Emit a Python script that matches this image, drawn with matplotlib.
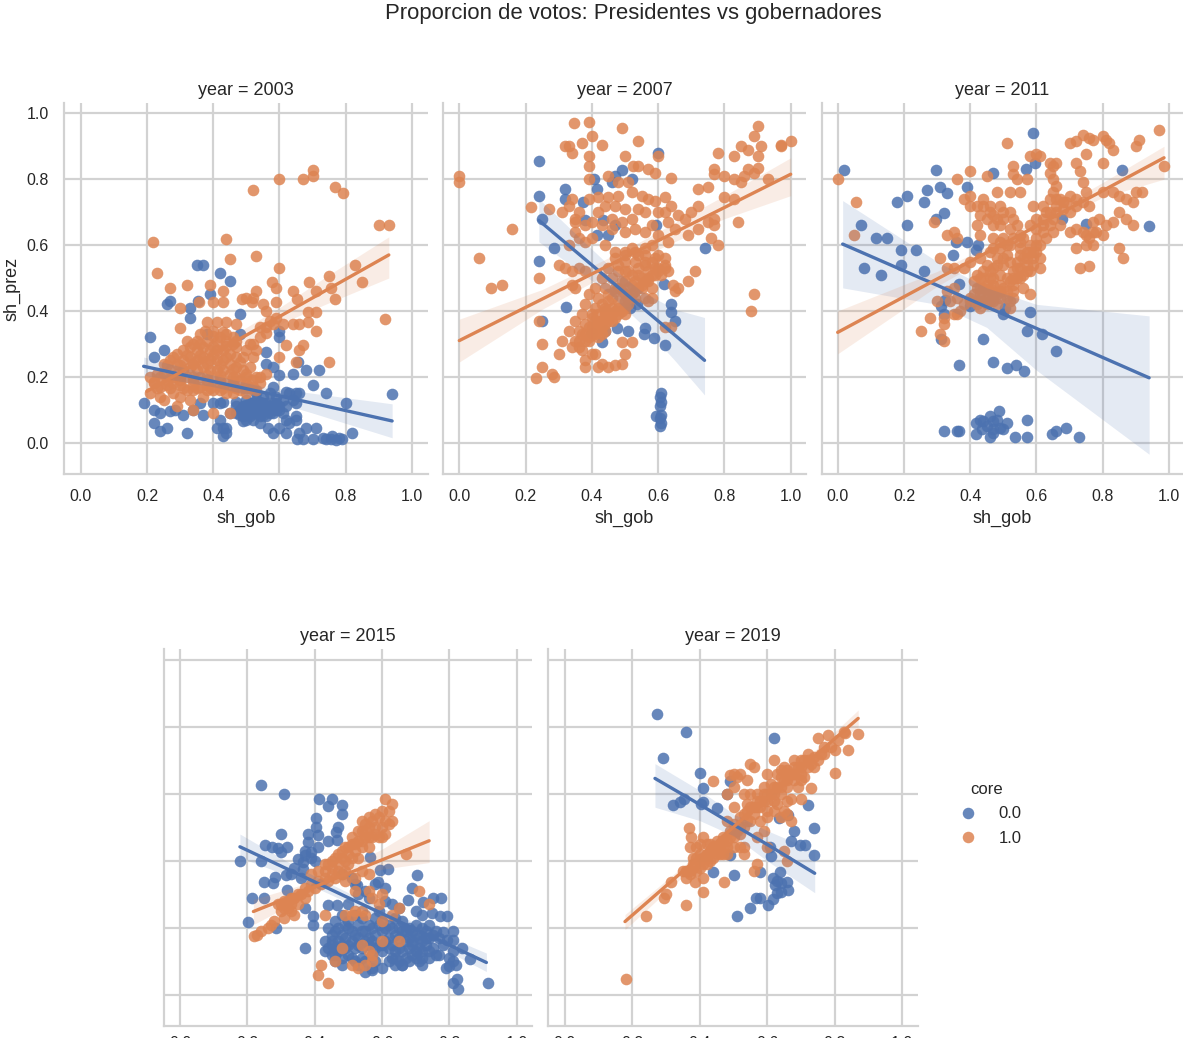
import numpy as np
import matplotlib
matplotlib.use("Agg")
import matplotlib.pyplot as plt
from matplotlib.lines import Line2D

plt.rcParams['font.family'] = ['Liberation Sans', 'DejaVu Sans']

BLUE = '#4C72B0'
ORANGE = '#DD8452'
TEXT = '#262626'
GRID = '#d2d2d2'

years = [2003, 2007, 2011, 2015, 2019]
ticks = [0.0, 0.2, 0.4, 0.6, 0.8, 1.0]

# -----------------------------------
# values: (sh_gob, sh_prez)
# -----------------------------------
blue_2003 = [(.19,.12),(.22,.10),(.24,.09),(.27,.095),(.285,.10),(.22,.06),(.24,.035),(.26,.045),(.31,.085),(.32,.03),
    (.37,.085),(.41,.045),(.43,.045),(.43,.02),(.44,.045),(.40,.12),(.43,.125),(.21,.32),(.22,.26),(.25,.28),(.26,.42),
    (.27,.43),(.33,.41),(.33,.38),(.35,.54),(.37,.54),(.42,.515),(.45,.49),(.39,.45),(.355,.43),(.48,.39),(.38,.33),
    (.48,.33),(.60,.32),(.60,.34),(.56,.275),(.56,.24),(.58,.23),(.60,.205),(.64,.21),(.68,.22),(.72,.22),(.70,.175),
    (.657,.245),(.58,.17),(.62,.155),(.65,.15),(.74,.15),(.80,.12),(.94,.148),(.65,.12),(.60,.11),(.566,.105),(.54,.125),
    (.52,.105),(.50,.115),(.48,.10),(.49,.065),(.516,.09),(.54,.08),(.566,.045),(.58,.03),(.60,.045),(.62,.07),(.65,.08),
    (.62,.03),(.654,.01),(.68,.045),(.71,.045),(.70,.01),(.73,.015),(.757,.01),(.78,.015),(.77,.007),(.82,.03),(.45,.09),
    (.42,.07),(.47,.125),(.53,.15),(.55,.14),(.57,.15),(.59,.14),(.61,.13),(.63,.15),(.50,.09),(.52,.07),(.53,.11),(.55,.10),
    (.57,.09),(.59,.10),(.61,.09),(.49,.08),(.51,.08),(.53,.09),(.47,.09),(.50,.13),(.56,.12),(.58,.12),(.34,.10),(.36,.12),
    (.66,.03),(.63,.06),(.65,.07),(.67,.01),(.74,.01),(.76,.02),(.79,.01),(.44,.03),(.42,.12),
    (.49,.11),(.51,.12),(.53,.13),(.55,.12),(.57,.11),(.59,.12),(.48,.085),(.50,.07),(.52,.09),(.54,.06),(.56,.08),(.58,.09),
    (.60,.10),(.62,.11),(.64,.13),(.66,.15),(.49,.10),(.51,.10),(.55,.085),(.57,.10),(.47,.11),(.52,.12),(.54,.10),(.56,.10)]
orange_2003 = [(.217,.608),(.23,.516),(.27,.47),(.32,.48),(.39,.48),(.43,.46),(.44,.617),(.45,.558),(.528,.568),(.52,.767),
    (.60,.80),(.67,.80),(.70,.81),(.70,.828),(.768,.775),(.793,.757),(.90,.66),(.93,.66),(.92,.375),(.828,.54),(.85,.488),
    (.75,.507),(.757,.47),(.768,.436),(.69,.488),(.71,.46),(.64,.46),(.654,.436),(.60,.53),(.578,.488),(.59,.47),(.528,.46),
    (.59,.428),(.486,.436),(.516,.428),(.43,.428),(.40,.428),(.358,.428),(.30,.408),(.30,.347),(.687,.398),(.71,.398),
    (.687,.367),(.71,.34),(.64,.36),(.62,.297),(.672,.297),(.66,.28),(.60,.26),(.65,.245),(.75,.245),(.56,.40),(.54,.352),
    (.56,.332),(.38,.365),(.41,.365),(.44,.365),(.47,.36),(.50,.44),(.52,.44),(.55,.42),(.57,.37),(.59,.38),(.61,.36),(.66,.36),
    (.375,.34),(.40,.34),(.43,.335),(.46,.32),(.51,.30),(.53,.28),(.32,.31),(.35,.31),(.38,.31),(.41,.31),(.44,.31),(.47,.29),
    (.29,.27),(.31,.28),(.33,.29),(.35,.28),(.37,.29),(.39,.28),(.41,.28),(.43,.28),(.45,.27),(.47,.26),(.49,.26),(.52,.26),
    (.25,.24),(.27,.25),(.29,.24),(.31,.25),(.33,.26),(.35,.25),(.37,.26),(.39,.25),(.41,.25),(.43,.25),(.45,.24),(.47,.23),
    (.21,.20),(.23,.21),(.25,.21),(.27,.22),(.29,.21),(.31,.22),(.33,.23),(.35,.22),(.37,.23),(.39,.22),(.41,.22),(.43,.22),
    (.45,.21),(.47,.20),(.49,.22),(.51,.23),(.53,.20),(.22,.18),(.24,.17),(.26,.19),(.28,.18),(.30,.19),(.32,.20),(.34,.19),
    (.36,.20),(.38,.19),(.40,.19),(.42,.19),(.44,.18),(.46,.18),(.48,.19),(.50,.18),(.52,.17),(.21,.15),(.24,.14),(.25,.13),
    (.28,.15),(.30,.14),(.32,.16),(.34,.16),(.36,.17),(.38,.16),(.40,.16),(.42,.16),(.44,.15),(.46,.15),(.48,.16),(.50,.15),
    (.53,.16),(.56,.21),(.29,.11),(.34,.10),(.40,.09),(.45,.09),(.33,.13),(.37,.14),
    (.23,.165),(.27,.165),(.31,.165),(.35,.165),(.39,.165),(.43,.165),(.47,.165),(.51,.165),(.24,.20),(.28,.20),(.30,.20),
    (.34,.20),(.38,.205),(.42,.205),(.46,.20),(.50,.20),(.54,.20),(.26,.235),(.30,.235),(.34,.24),(.38,.24),(.42,.235),
    (.46,.225),(.50,.21),(.28,.26),(.32,.265),(.36,.265),(.40,.265),(.44,.26),(.48,.245),(.34,.30),(.36,.30),(.40,.295),
    (.44,.295),(.46,.30),(.50,.28),(.36,.33),(.40,.325),(.42,.32),(.44,.33),(.47,.31),(.22,.185),(.26,.175),(.30,.175),
    (.34,.175),(.38,.175),(.42,.175),(.46,.17),(.50,.165),(.54,.18),(.52,.30),(.54,.32),(.56,.35),(.58,.36),(.52,.19)]

blue_2007 = [(.24,.856),(.24,.749),(.25,.68),(.32,.77),(.32,.74),(.405,.80),(.415,.77),(.46,.79),(.47,.81),(.49,.828),(.52,.80),
    (.60,.88),(.374,.73),(.38,.675),(.435,.675),(.416,.63),(.47,.66),(.45,.63),(.595,.66),(.287,.59),(.24,.552),(.74,.59),
    (.618,.483),(.638,.422),(.638,.398),(.65,.37),(.322,.412),(.25,.37),(.40,.332),(.44,.34),(.475,.347),(.51,.34),(.56,.347),
    (.557,.33),(.587,.317),(.62,.297),(.43,.305),(.535,.42),(.515,.408),(.61,.15),(.605,.14),(.61,.125),(.605,.11),(.61,.085),
    (.605,.075),(.61,.06),(.607,.05),(.593,.08)]
orange_2007 = [(0,.81),(0,.79),(.06,.56),(.097,.47),(.13,.48),(.158,.648),(.217,.715),(.24,.50),(.24,.37),(.25,.30),(.25,.23),
    (.23,.195),(.28,.21),(.285,.20),(.345,.97),(.39,.975),(.32,.90),(.33,.90),(.34,.88),(.37,.91),(.40,.93),(.43,.905),(.39,.87),
    (.39,.84),(.49,.955),(.54,.915),(.50,.87),(.525,.84),(.54,.84),(.57,.83),(.59,.82),(.60,.87),(.64,.805),(.39,.80),(.45,.81),
    (.48,.79),(.51,.79),(.78,.88),(.83,.87),(.85,.90),(.87,.89),(.90,.87),(.90,.96),(.89,.93),(.91,.90),(.97,.905),(1.0,.915),
    (.77,.83),(.77,.815),(.80,.81),(.83,.80),(.86,.81),(.87,.83),(.89,.82),(.90,.835),(.72,.77),(.75,.775),(.34,.74),(.33,.72),
    (.27,.71),(.35,.68),(.31,.70),(.39,.74),(.42,.745),(.45,.745),(.48,.75),(.52,.76),(.55,.75),(.57,.74),(.59,.735),(.62,.745),
    (.35,.67),(.40,.67),(.43,.66),(.46,.68),(.49,.67),(.52,.68),(.54,.71),(.56,.70),(.62,.70),(.63,.67),(.66,.69),(.70,.70),
    (.72,.72),(.75,.67),(.77,.68),(.80,.745),(.83,.74),(.84,.67),(.77,.66),(.69,.63),(.72,.65),(.76,.62),(.78,.60),(.35,.64),
    (.36,.62),(.33,.60),(.38,.61),(.40,.62),(.53,.65),(.56,.64),(.60,.63),(.63,.61),(.65,.65),(.30,.54),(.32,.53),(.34,.52),
    (.36,.53),(.38,.52),(.34,.48),(.35,.47),(.44,.60),(.47,.58),(.50,.58),(.53,.58),(.56,.57),(.59,.56),(.62,.56),(.47,.56),
    (.50,.55),(.53,.55),(.56,.54),(.59,.53),(.62,.54),(.45,.53),(.48,.52),(.51,.52),(.54,.51),(.57,.50),(.60,.52),(.43,.50),
    (.46,.50),(.49,.49),(.52,.48),(.55,.47),(.58,.47),(.41,.47),(.44,.47),(.47,.46),(.50,.45),(.53,.44),(.56,.44),(.39,.45),
    (.42,.44),(.45,.43),(.48,.43),(.51,.42),(.58,.44),(.38,.42),(.41,.41),(.44,.40),(.47,.40),(.50,.39),(.37,.39),(.40,.38),
    (.43,.37),(.46,.37),(.35,.37),(.38,.36),(.41,.35),(.44,.34),(.33,.34),(.36,.34),(.39,.32),(.42,.32),(.31,.31),(.34,.29),
    (.37,.28),(.40,.27),(.30,.27),(.38,.25),(.41,.27),(.43,.24),(.38,.23),(.42,.23),(.45,.23),(.47,.235),(.49,.24),(.50,.27),
    (.49,.305),(.52,.305),(.64,.35),(.645,.48),(.66,.47),(.69,.49),(.71,.52),(.65,.46),(.63,.52),(.62,.53),(.89,.45),(.88,.40),
    (.57,.43),(.62,.35),(.97,.90),(.93,.80),(.85,.79),
    (.36,.31),(.38,.33),(.40,.35),(.42,.37),(.44,.39),(.46,.41),(.48,.41),(.50,.43),(.52,.45),(.54,.47),(.56,.49),(.58,.51),
    (.60,.53),(.39,.31),(.41,.33),(.43,.35),(.45,.37),(.47,.38),(.49,.40),(.51,.44),(.53,.46),(.55,.48),(.57,.52),(.40,.39),
    (.42,.39),(.44,.41),(.46,.44),(.48,.47),(.50,.49),(.52,.51),(.54,.53),(.56,.55),(.58,.55),(.60,.57),(.50,.52),(.48,.54),
    (.50,.57),(.52,.59),(.54,.57),(.56,.59),(.58,.60),(.44,.38),(.46,.39),(.48,.39),(.50,.41),(.43,.42),(.45,.45),(.47,.47),
    (.49,.46),(.51,.47),(.53,.49),(.55,.50),(.57,.49),(.59,.51),(.61,.51),(.44,.36),(.42,.35),(.40,.33),(.38,.31),(.36,.29),
    (.35,.31),(.37,.33),(.39,.35),(.41,.37),(.43,.33),(.42,.70),(.44,.72),(.47,.72),(.50,.71),(.36,.70),(.38,.66),(.50,.64),
    (.46,.65),(.58,.66),(.60,.70),(.64,.72),(.68,.68)]

blue_2011 = [(.02,.828),(.59,.94),(.297,.828),(.468,.82),(.568,.83),(.595,.848),(.857,.828),(.94,.658),(.178,.73),(.208,.75),
    (.26,.73),(.27,.768),(.31,.777),(.33,.757),(.39,.777),(.32,.696),(.296,.68),(.208,.66),(.07,.66),(.116,.62),(.15,.62),
    (.19,.585),(.237,.585),(.19,.54),(.08,.53),(.13,.51),(.26,.52),(.357,.61),(.39,.61),(.424,.60),(.417,.585),(.348,.57),
    (.367,.483),(.324,.433),(.312,.415),(.32,.39),(.40,.415),(.505,.408),(.50,.39),(.58,.398),(.57,.34),(.616,.33),(.658,.278),
    (.44,.316),(.312,.316),(.366,.236),(.468,.245),(.51,.228),(.538,.236),(.562,.218),(.676,.68),(.75,.665),(.32,.036),(.36,.036),
    (.367,.036),(.417,.026),(.417,.06),(.44,.066),(.46,.08),(.488,.096),(.435,.043),(.46,.016),(.468,.043),(.48,.07),(.51,.06),
    (.50,.043),(.57,.07),(.535,.016),(.57,.016),(.648,.025),(.658,.036),(.69,.045),(.727,.016),(.45,.05),(.47,.03),(.49,.045),
    (.43,.07),(.47,.065)]
orange_2011 = [(0,.80),(.055,.73),(.048,.63),(.29,.67),(.36,.80),(.40,.825),(.45,.81),(.51,.91),(.53,.84),(.53,.815),(.54,.80),
    (.57,.80),(.58,.87),(.60,.875),(.61,.87),(.64,.85),(.65,.84),(.66,.85),(.64,.82),(.65,.80),(.66,.78),(.72,.85),(.73,.825),
    (.70,.91),(.72,.915),(.74,.935),(.76,.925),(.77,.92),(.80,.93),(.81,.92),(.82,.91),(.83,.89),(.75,.875),(.80,.85),(.90,.90),
    (.91,.92),(.97,.95),(.985,.84),(.74,.79),(.69,.73),(.75,.76),(.80,.76),(.83,.76),(.85,.75),(.87,.74),(.89,.73),(.90,.76),
    (.92,.76),(.38,.74),(.40,.75),(.40,.72),(.44,.72),(.46,.70),(.49,.72),(.48,.76),(.52,.76),(.55,.76),(.59,.72),(.45,.68),
    (.47,.66),(.50,.68),(.52,.65),(.53,.68),(.42,.66),(.64,.74),(.66,.72),(.68,.71),(.70,.70),(.72,.72),(.63,.70),(.60,.68),
    (.58,.66),(.60,.65),(.62,.66),(.65,.68),(.77,.67),(.79,.68),(.81,.66),(.83,.67),(.85,.70),(.87,.68),(.89,.66),(.70,.64),
    (.72,.65),(.74,.64),(.76,.62),(.75,.60),(.77,.60),(.72,.59),(.85,.59),(.86,.56),(.73,.53),(.76,.535),(.61,.53),(.55,.63),
    (.53,.62),(.50,.62),(.47,.62),(.43,.63),(.33,.63),(.35,.64),(.36,.62),(.31,.56),(.33,.53),(.35,.53),(.38,.53),(.40,.55),
    (.43,.56),(.46,.58),(.49,.59),(.52,.60),(.55,.59),(.58,.58),(.60,.60),(.45,.54),(.48,.56),(.51,.57),(.54,.55),(.57,.54),
    (.59,.56),(.42,.51),(.44,.52),(.47,.53),(.50,.54),(.53,.52),(.56,.51),(.58,.52),(.41,.49),(.43,.50),(.46,.50),(.49,.51),
    (.52,.49),(.54,.50),(.56,.47),(.42,.47),(.44,.47),(.47,.48),(.50,.47),(.53,.46),(.41,.45),(.43,.45),(.46,.46),(.48,.45),
    (.53,.44),(.52,.41),(.58,.45),(.33,.46),(.35,.47),(.30,.43),(.34,.43),(.36,.44),(.38,.42),(.40,.43),(.42,.42),(.44,.43),
    (.46,.43),(.48,.42),(.36,.39),(.32,.38),(.32,.36),(.35,.39),(.37,.40),(.28,.38),(.25,.34),(.31,.33),(.32,.31),
    (.43,.41),(.45,.42),(.47,.43),(.49,.44),(.51,.44),(.45,.44),(.47,.45),(.49,.46),(.51,.46),(.53,.48),(.55,.50),(.57,.52),
    (.59,.54),(.61,.56),(.43,.47),(.45,.48),(.47,.50),(.49,.48),(.51,.50),(.53,.50),(.55,.53),(.57,.56),(.59,.58),(.61,.60),
    (.63,.62),(.65,.64),(.67,.66),(.44,.50),(.46,.52),(.48,.54),(.50,.56),(.52,.55),(.54,.53),(.56,.56),(.58,.60),(.60,.62),
    (.62,.64),(.64,.66),(.66,.70),(.68,.73),(.70,.75),(.72,.74),(.74,.73),(.76,.72),(.47,.59),(.49,.61),(.51,.60),(.55,.61),
    (.48,.68),(.50,.70),(.46,.72),(.44,.74),(.42,.72),(.43,.69),(.47,.69),(.49,.66),(.52,.70),(.54,.66),(.56,.62),(.62,.68),
    (.64,.70),(.66,.74),(.62,.72),(.65,.76),(.67,.74),(.78,.64),(.80,.63),(.75,.63),(.77,.64),(.60,.58),(.57,.58),(.55,.57),
    (.46,.47),(.44,.45),(.42,.43),(.40,.44),(.52,.43)]

blue_2015 = [(.24,.626),(.31,.60),(.413,.586),(.452,.586),(.44,.565),(.482,.568),(.482,.54),(.403,.529),(.403,.50),(.47,.50),
    (.462,.487),(.30,.48),(.38,.48),(.41,.477),(.38,.457),(.44,.46),(.465,.462),(.252,.447),(.272,.442),(.292,.437),(.317,.44),
    (.30,.427),(.178,.40),(.24,.40),(.35,.407),(.37,.417),(.39,.427),(.366,.397),(.366,.377),(.25,.338),(.277,.333),(.283,.353),
    (.315,.358),(.213,.288),(.25,.288),(.317,.313),(.203,.219),(.285,.199),(.37,.258),(.394,.237),(.394,.209),(.37,.139),
    (.594,.373),(.619,.376),(.564,.413),(.703,.358),(.589,.336),(.525,.328),(.51,.348),(.688,.318),(.678,.283),(.723,.278),
    (.752,.288),(.774,.288),(.747,.244),(.772,.237),(.792,.237),(.44,.268),(.465,.268),(.50,.27),(.53,.30),(.61,.28),(.63,.27),
    (.65,.26),(.70,.25),(.72,.24),(.44,.20),(.46,.22),(.48,.24),(.50,.22),(.52,.24),(.54,.23),(.56,.21),(.58,.23),(.60,.22),
    (.62,.21),(.64,.23),(.66,.22),(.68,.20),(.70,.21),(.72,.20),(.74,.21),(.46,.19),(.48,.18),(.50,.20),(.52,.18),(.54,.19),
    (.56,.17),(.58,.18),(.60,.19),(.62,.17),(.64,.18),(.66,.19),(.68,.17),(.70,.18),(.72,.16),(.74,.17),(.76,.19),(.43,.16),
    (.45,.15),(.47,.16),(.49,.14),(.51,.16),(.53,.15),(.55,.16),(.59,.15),(.61,.16),(.63,.15),(.65,.14),(.67,.16),(.69,.15),
    (.71,.14),(.73,.15),(.75,.14),(.43,.13),(.45,.12),(.47,.13),(.50,.12),(.52,.10),(.54,.11),(.57,.12),(.60,.13),(.63,.11),
    (.65,.10),(.67,.11),(.69,.12),(.71,.10),(.72,.09),(.46,.10),(.48,.09),(.53,.09),(.57,.08),(.60,.08),(.64,.09),(.66,.09),
    (.72,.11),(.77,.12),(.55,.07),(.57,.075),(.66,.09),(.782,.189),(.812,.19),(.792,.164),(.812,.164),(.837,.139),(.861,.107),
    (.80,.11),(.81,.10),(.80,.085),(.79,.08),(.82,.09),(.81,.13),(.78,.15),(.822,.047),(.81,.035),(.825,.017),(.914,.036),
    (.45,.18),(.47,.20),(.49,.21),(.51,.19),(.53,.21),(.55,.19),(.57,.20),(.59,.21),(.61,.20),(.63,.20),(.65,.20),(.67,.19),
    (.69,.19),(.71,.17),(.73,.19),(.75,.18),(.77,.17),(.44,.14),(.46,.14),(.48,.15),(.50,.15),(.52,.14),(.54,.14),(.56,.15),
    (.58,.14),(.60,.15),(.62,.14),(.64,.13),(.66,.13),(.68,.14),(.70,.13),(.72,.13),(.74,.13),(.76,.12),(.46,.12),(.48,.11),
    (.51,.11),(.55,.10),(.58,.10),(.62,.10),(.64,.11),(.68,.10),(.70,.11),(.74,.11),(.45,.16),(.49,.17),(.53,.17),(.57,.16),
    (.65,.17),(.69,.16),(.73,.17),(.59,.25),(.56,.29),(.55,.31),(.52,.33),(.48,.36),(.58,.33),(.61,.32),(.34,.38),(.33,.36),
    (.36,.35),(.37,.43),(.39,.41),(.41,.44),(.40,.40)]
orange_2015 = [(.61,.585),(.63,.57),(.60,.55),(.63,.52),(.62,.51),(.60,.50),(.58,.50),(.56,.50),(.54,.49),(.61,.48),(.59,.47),
    (.57,.47),(.55,.47),(.53,.46),(.51,.45),(.56,.44),(.54,.44),(.52,.43),(.50,.42),(.48,.41),(.47,.39),(.45,.38),(.43,.37),
    (.41,.37),(.39,.36),(.50,.39),(.48,.36),(.46,.35),(.44,.34),(.42,.33),(.40,.32),(.38,.31),(.36,.30),(.34,.29),(.32,.28),
    (.30,.27),(.30,.25),(.32,.26),(.34,.24),(.29,.27),(.33,.25),(.31,.23),(.52,.35),(.54,.37),(.56,.36),(.67,.42),(.49,.34),
    (.52,.31),(.56,.31),(.57,.29),(.59,.27),(.65,.26),(.71,.31),(.74,.27),(.43,.24),(.49,.24),(.51,.24),(.52,.25),(.54,.25),
    (.55,.24),(.60,.30),(.63,.24),(.28,.22),(.27,.21),(.26,.20),(.24,.19),(.23,.18),(.22,.175),(.60,.16),(.60,.22),(.65,.16),
    (.48,.14),(.54,.15),(.56,.13),(.57,.12),(.57,.10),(.55,.09),(.42,.09),(.46,.10),(.41,.06),(.44,.035),(.51,.09),(.53,.08),
    (.59,.53),(.57,.52),(.55,.51),(.53,.49),(.51,.47),(.49,.44),(.47,.42),(.45,.40),(.43,.39),(.58,.48),(.56,.47),(.54,.46),
    (.52,.45),(.50,.44),(.48,.43),(.46,.41),(.44,.39),(.60,.47),(.55,.49),(.49,.40),(.47,.37),(.45,.36),(.43,.35),(.41,.34),
    (.39,.33),(.37,.32),(.35,.30),(.33,.29),(.31,.28),(.31,.26),(.35,.27),(.33,.27),(.37,.29),(.53,.41),(.51,.41),(.49,.37),
    (.62,.55),(.61,.52),(.58,.54),(.56,.53),(.54,.52)]

blue_2019 = [(.274,.837),(.36,.785),(.62,.767),(.29,.706),(.40,.661),(.41,.618),(.32,.567),(.34,.577),(.353,.585),(.405,.569),
    (.41,.577),(.45,.557),(.48,.598),(.49,.638),(.72,.567),(.74,.497),(.68,.489),(.67,.459),(.697,.447),(.713,.447),(.74,.417),
    (.662,.537),(.635,.527),(.608,.442),(.61,.415),(.49,.417),(.44,.368),(.50,.358),(.578,.366),(.637,.366),(.618,.348),(.63,.34),
    (.622,.328),(.64,.335),(.66,.338),(.662,.313),(.642,.308),(.628,.303),(.618,.286),(.603,.268),(.578,.288),(.566,.288),
    (.55,.258),(.509,.236)]
orange_2019 = [(.18,.047),(.24,.237),(.293,.288),(.30,.30),(.316,.338),(.36,.268),(.41,.306),(.471,.338),(.36,.348),(.385,.338),
    (.41,.348),(.87,.777),(.84,.73),(.80,.661),(.75,.765),(.78,.775),(.827,.785),(.80,.73),(.731,.618),(.672,.586),(.70,.586),
    (.44,.638),(.368,.497),(.375,.47),(.37,.44),(.38,.41),(.39,.44),(.40,.45),(.41,.47),(.42,.45),(.43,.43),(.45,.46),(.47,.47),
    (.49,.49),(.47,.44),(.45,.42),(.43,.40),(.41,.39),(.39,.37),(.37,.36),(.40,.42),(.44,.44),(.38,.39),(.35,.37),(.42,.41),
    (.47,.42),(.53,.44),(.53,.42),(.57,.39),(.56,.37),(.60,.44),(.65,.43),(.66,.40),(.50,.51),(.52,.53),(.54,.55),(.56,.54),
    (.58,.52),(.60,.55),(.62,.58),(.64,.60),(.66,.62),(.68,.64),(.70,.66),(.72,.68),(.53,.50),(.55,.52),(.57,.56),(.59,.58),
    (.61,.60),(.63,.62),(.65,.64),(.67,.66),(.69,.68),(.71,.70),(.74,.71),(.76,.72),(.77,.74),(.48,.52),(.50,.56),(.48,.60),
    (.50,.62),(.50,.66),(.52,.66),(.54,.64),(.56,.68),(.55,.69),(.51,.65),(.49,.655),(.53,.60),(.55,.60),(.57,.60),(.59,.62),
    (.60,.66),(.62,.70),(.65,.68),(.68,.70),(.68,.66),(.66,.67),(.64,.67),(.70,.64),(.69,.62),(.71,.65),(.66,.58),(.63,.57),
    (.62,.55),(.65,.55),(.59,.49),(.57,.47),(.54,.57),(.52,.48),(.50,.47),(.48,.46),(.46,.45),(.44,.43),(.60,.53),(.66,.54),
    (.64,.53),(.67,.52),
    (.38,.38),(.40,.40),(.42,.42),(.44,.44),(.46,.44),(.48,.44),(.50,.49),(.39,.41),(.41,.41),(.43,.45),(.45,.44),(.47,.46),
    (.49,.47),(.51,.49),(.37,.37),(.36,.37),(.40,.38),(.42,.39),(.44,.41),(.46,.42),(.48,.42),(.50,.44),(.52,.44),(.52,.50),
    (.54,.52),(.56,.56),(.58,.56),(.60,.58),(.62,.60),(.64,.62),(.66,.64),(.68,.66),(.70,.68),(.72,.70),(.73,.69),(.75,.70),
    (.58,.58),(.60,.60),(.62,.62),(.64,.65),(.66,.66),(.68,.68),(.70,.70),(.72,.72),(.74,.68),(.63,.66),(.61,.63),(.59,.60),
    (.57,.58),(.55,.56),(.53,.54),(.79,.74),(.81,.76),(.83,.78),(.77,.72)]

# regression lines and bands: sh_gob, fit, lower, upper
line_x_blue = {2003: [.19, .40, .55, .70, .94], 2007: [.24, .45, .55, .65, .74], 2011: [.015, .30, .45, .60, .94],
               2015: [.178, .35, .50, .70, .91], 2019: [.267, .40, .50, .60, .741]}
line_y_blue = {2003: [.232, .186, .153, .120, .066], 2007: [.675, .497, .412, .327, .25], 2011: [.603, .478, .412, .347, .197],
               2015: [.442, .361, .29, .196, .097], 2019: [.646, .568, .508, .449, .363]}
low_blue = {2003: [.205, .17, .135, .09, .015], 2007: [.61, .455, .36, .25, .145], 2011: [.47, .42, .35, .22, -.035],
            2015: [.41, .345, .275, .18, .07], 2019: [.56, .52, .475, .40, .305]}
high_blue = {2003: [.26, .205, .17, .15, .118], 2007: [.74, .54, .46, .405, .38], 2011: [.735, .55, .47, .42, .385],
             2015: [.48, .38, .305, .215, .125], 2019: [.69, .61, .54, .49, .43]}

line_x_orange = {2003: [.20, .40, .60, .75, .93], 2007: [0, .25, .50, .80, 1.0], 2011: [0, .30, .50, .80, .985],
                 2015: [.218, .35, .45, .60, .74], 2019: [.178, .40, .55, .70, .87]}
line_y_orange = {2003: [.156, .27, .383, .468, .57], 2007: [.31, .436, .563, .714, .815], 2011: [.335, .497, .604, .765, .865],
                 2015: [.249, .302, .343, .403, .46], 2019: [.219, .413, .545, .677, .825]}
low_orange = {2003: [.125, .25, .36, .425, .50], 2007: [.245, .405, .54, .68, .75], 2011: [.27, .475, .59, .745, .80],
              2015: [.21, .28, .33, .375, .395], 2019: [.195, .40, .535, .665, .80]}
high_orange = {2003: [.19, .29, .41, .51, .625], 2007: [.375, .465, .585, .75, .865], 2011: [.40, .52, .62, .79, .90],
               2015: [.285, .325, .36, .435, .52], 2019: [.24, .425, .555, .69, .85]}

points_blue = dict(zip(years, [blue_2003, blue_2007, blue_2011, blue_2015, blue_2019]))
points_orange = dict(zip(years, [orange_2003, orange_2007, orange_2011, orange_2015, orange_2019]))

# -----------------------------------
# layout in pixels of the 1183x1038 image: left, right, top, bottom of the axes
# -----------------------------------
W, H = 1183, 1038
boxes = {2003: (64, 428, 103, 474), 2007: (443, 806, 103, 474), 2011: (822, 1183, 103, 474),
         2015: (164, 532, 649, 1026), 2019: (548, 918, 649, 1026)}
zero_one = {2003: (80.7, 412), 2007: (459.3, 790.7), 2011: (837.7, 1169),
            2015: (180, 516.7), 2019: (565, 902)}
y_px = {2003: (442.7, 113.3), 2007: (442.7, 113.3), 2011: (442.7, 113.3),
        2015: (995, 659.7), 2019: (995, 659.7)}

fig = plt.figure(figsize=(W / 100, H / 100), dpi=100)

for year in years:
    l, r, t, b = boxes[year]
    ax = fig.add_axes([l / W, 1 - b / H, (r - l) / W, (b - t) / H])
    x0, x1 = zero_one[year]
    y0, y1 = y_px[year]
    ax.set_xlim((l - x0) / (x1 - x0), (r - x0) / (x1 - x0))
    ax.set_ylim((b - y0) / (y1 - y0), (t - y0) / (y1 - y0))
    ax.set_axisbelow(True)
    ax.grid(True, color=GRID, lw=1.6)
    ax.set_xticks(ticks)
    ax.set_yticks(ticks)
    for side in ['top', 'right']:
        ax.spines[side].set_visible(False)
    for side in ['left', 'bottom']:
        ax.spines[side].set_color(GRID)
        ax.spines[side].set_linewidth(1.6)

    for pts, lx, ly, lo, hi, col in [
        (points_blue[year], line_x_blue[year], line_y_blue[year], low_blue[year], high_blue[year], BLUE),
        (points_orange[year], line_x_orange[year], line_y_orange[year], low_orange[year], high_orange[year], ORANGE),
    ]:
        arr = np.array(pts)
        ax.scatter(arr[:, 0], arr[:, 1], s=70, color=col, alpha=0.85, linewidths=0, zorder=3)
        ax.fill_between(lx, lo, hi, color=col, alpha=0.15, linewidth=0, zorder=3.5)
        ax.plot(lx, ly, color=col, lw=2.4, zorder=4, solid_capstyle='round')

    ax.set_title('year = %d' % year, fontsize=13, color=TEXT, pad=6)
    if year in (2003, 2007, 2011):
        ax.tick_params(axis='x', length=0, labelsize=11.5, labelcolor=TEXT, pad=11)
        ax.set_xlabel('sh_gob', fontsize=13, color=TEXT, labelpad=4)
    else:
        ax.tick_params(axis='x', length=0, labelsize=11.5, labelcolor=TEXT, pad=7.5)
    if year == 2003:
        ax.tick_params(axis='y', length=0, labelsize=11.5, labelcolor=TEXT, pad=11)
        ax.set_ylabel('sh_prez', fontsize=13, color=TEXT, labelpad=4)
    else:
        ax.tick_params(axis='y', length=0, labelleft=False)

fig.text(633 / W, 1 - 14 / H, 'Proporcion de votos: Presidentes vs gobernadores',
         ha='center', va='center', fontsize=15.9, color=TEXT)

handles = [Line2D([], [], ls='', marker='o', ms=8.3, mew=0, color=BLUE, alpha=0.85),
           Line2D([], [], ls='', marker='o', ms=8.3, mew=0, color=ORANGE, alpha=0.85)]
leg = fig.legend(handles, ['0.0', '1.0'], title='core', frameon=False, fontsize=12, title_fontsize=12,
                 loc='center left', bbox_to_anchor=(936 / W, 1 - 814 / H), labelspacing=0.55, handletextpad=0.85,
                 labelcolor=TEXT)
leg.get_title().set_color(TEXT)

plt.savefig('out.png', dpi=100)
